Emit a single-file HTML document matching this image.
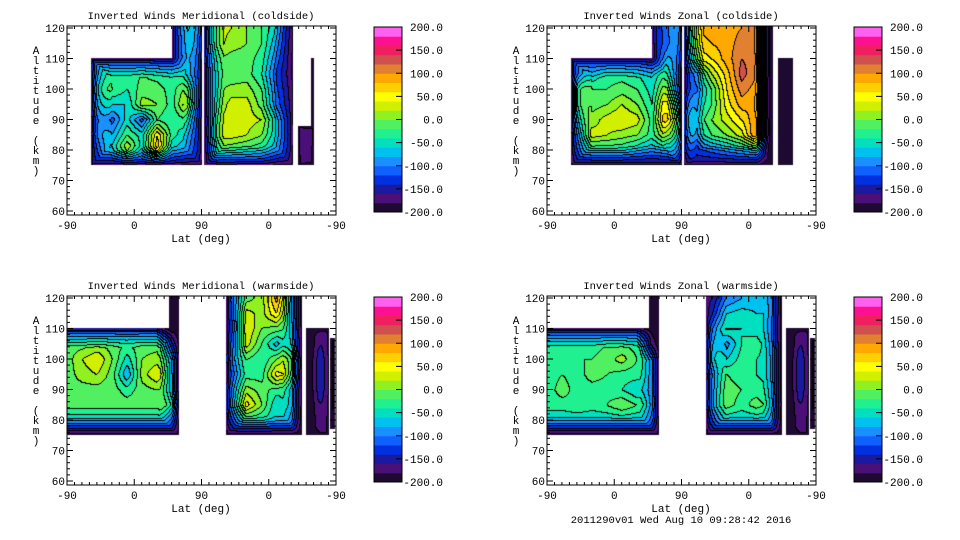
<!DOCTYPE html>
<html><head><meta charset="utf-8"><style>
body{margin:0;background:#fff;width:960px;height:540px;position:relative;overflow:hidden;font-family:"Liberation Mono",monospace}
canvas{position:absolute}
svg{position:absolute;left:0;top:0}
</style></head><body>
<svg id="s" width="960" height="540"></svg>
<script>
// ---- data ----
const colCenters=[0,20,40,60,80,100,120,140,160,180,200,220,240,260,280,300,320,340,360];
const altRows=[120,115,110,105,100,95,90,85,80,75];
const titles=["Inverted Winds Meridional (coldside)","Inverted Winds Zonal (coldside)","Inverted Winds Meridional (warmside)","Inverted Winds Zonal (warmside)"];
const xTickLabels=["-90","0","90","0","-90"];
const yTickLabels=[60,70,80,90,100,110,120];
const cbarLabels=["200.0","150.0","100.0","50.0","0.0","-50.0","-100.0","-150.0","-200.0"];
const levels=[-200,-180,-160,-140,-120,-100,-80,-60,-40,-20,0,20,40,60,80,100,120,140,160,180,200];
const bandColors=["#1e0a30","#4b1078","#1a1aa0","#0030e0","#1060ff","#1a90ff","#00c0f0","#00e0c0","#20f090","#50f060","#90f020","#d0f000","#ffff00","#ffd000","#ffa800","#e08030","#d05050","#f02060","#ff1090","#ff60f0"];
const masks=[
 [[32,180,75,110],[140,180,110,122],[184,302,75,122],[309,329,75,88],[327,330,75,110]],
 [[32,180,75,110],[140,180,110,122],[184,302,75,122],[309,329,75,110]],
 [[0,150,75,110],[136,150,110,122],[213,314,75,122],[320,350,75,110],[352,359,77,107]],
 [[0,150,75,110],[136,150,110,122],[213,314,75,122],[320,350,75,110],[352,359,77,107]]
];
const merCold=[
[-20,-20,-20,-20,-20,-20,-20,-60,-40,20,30,20,0,-20,-60,-130,-150,-150,-150],
[-20,-20,-20,-20,-20,-20,-20,-60,-50,10,30,10,0,-20,-80,-130,-150,-150,-150],
[-20,-20,-30,-40,-40,-40,-50,-60,-60,-20,0,-10,-10,-30,-100,-140,-150,-150,-150],
[-20,-20,0,-30,-30,-20,-30,-40,-50,-40,-10,-20,-10,-40,-120,-140,-150,-150,-150],
[-20,-20,40,-20,-40,-10,-10,-30,10,-50,-10,10,10,-20,-110,-130,-150,-150,-150],
[-20,-20,10,-60,-60,10,0,-30,40,-60,0,30,30,-10,-100,-120,-150,-150,-150],
[-20,-20,-30,-110,-50,-110,-20,-40,-20,-80,20,30,30,20,-60,-110,-150,-150,-150],
[-20,-20,-20,-80,-20,-50,60,-30,-60,-80,30,30,20,0,-60,-100,-140,-150,-150],
[-20,-20,-60,-50,30,-50,80,-60,-80,-90,-10,-20,-30,-40,-80,-110,-150,-150,-150],
[-20,-20,-100,-100,-80,-80,-80,-100,-120,-120,-80,-80,-80,-90,-120,-140,-150,-150,-150]];
const zonCold=[
[-40,-40,-40,-40,-40,-40,-40,-60,-100,60,80,90,90,100,100,-200,-200,-200,-200],
[-40,-40,-40,-40,-40,-40,-40,-70,-100,40,70,80,90,110,100,-200,-200,-200,-200],
[-40,-40,-50,-50,-50,-50,-50,-80,-60,0,40,60,90,120,110,-200,-200,-200,-200],
[-40,-40,-30,-60,-30,-30,-40,-60,-20,-40,-60,20,70,130,100,-200,-200,-200,-200],
[-40,-40,80,-20,-20,-10,-20,-50,30,-30,-80,-20,60,110,90,-200,-200,-200,-200],
[-40,-40,80,-10,0,20,0,-40,80,60,-60,-20,50,90,80,-200,-200,-200,-200],
[-40,-40,30,10,30,40,30,-30,100,140,-40,0,30,60,100,-200,-200,-200,-200],
[-40,-40,-20,30,20,10,0,-30,30,100,-60,-20,0,30,110,-200,-200,-200,-200],
[-40,-40,-60,-40,-40,-40,-60,-80,-60,20,-120,-100,-80,-60,-40,-200,-200,-200,-200],
[-120,-120,-120,-120,-120,-120,-120,-120,-120,-120,-120,-120,-120,-120,-120,-200,-200,-200,-200]];
const merWarm=[
[-10,-10,-10,-10,-10,-10,-10,-180,-180,-10,-10,-40,-10,10,90,-40,-200,-150,-150],
[-10,-10,-10,-10,-10,-10,-10,-180,-180,-10,-10,-50,30,10,60,-40,-200,-150,-150],
[-20,-20,-20,-20,-20,-20,-20,-180,-180,-10,-10,-60,40,0,-10,-30,-200,-150,-150],
[-10,-10,0,-10,-20,-10,-10,-100,-180,-10,-10,-40,30,-20,-70,-20,-200,-140,-150],
[-10,20,40,0,-50,0,10,-20,-180,-10,-10,-20,-20,-40,0,40,-200,-120,-150],
[-10,10,20,-10,-80,10,40,-10,-180,-10,-10,-50,-30,-30,50,30,-200,-120,-150],
[-10,-10,-10,-10,-30,-10,0,-10,-180,-10,-10,-10,10,-10,-30,-30,-200,-120,-150],
[-10,-10,-10,-10,-10,-10,-10,40,-180,-10,-10,10,50,0,-60,-30,-200,-140,-150],
[-60,-60,-60,-60,-60,-60,-60,-60,-180,-10,-10,-60,-40,-40,-60,-60,-200,-150,-150],
[-150,-150,-150,-150,-150,-150,-150,-150,-150,-150,-150,-150,-150,-150,-150,-150,-200,-150,-150]];
const zonWarm=[
[-30,-30,-30,-30,-30,-30,-30,-180,-180,-30,-30,-130,-100,-80,-70,-60,-200,-150,-150],
[-30,-30,-30,-30,-30,-30,-30,-180,-180,-30,-30,-100,-60,-50,-60,-60,-200,-150,-150],
[-40,-40,-40,-40,-40,-40,-40,-180,-180,-30,-30,-30,-40,-40,-50,-70,-200,-150,-150],
[-30,-30,-30,-30,-20,-20,-30,-150,-180,-30,-30,10,-90,-40,-30,-60,-200,-140,-150],
[-30,-30,-20,-20,-10,10,-20,-40,-180,-30,-30,30,-60,-30,-40,-50,-200,-120,-150],
[-30,-20,-30,-10,-20,-30,-30,-40,-180,-30,-30,-20,-20,-30,-40,-50,-200,-120,-150],
[-30,-10,-30,-30,-30,-40,-60,-40,-180,-30,-30,-10,-10,-20,-30,-40,-200,-120,-150],
[-30,-30,-20,-30,-20,0,-20,-30,-180,-30,-30,0,-10,-30,-10,-30,-200,-140,-150],
[-60,-60,-60,-60,-60,-60,-60,-60,-180,-30,-30,-60,-60,-60,-60,-60,-200,-150,-150],
[-150,-150,-150,-150,-150,-150,-150,-150,-150,-150,-150,-150,-150,-150,-150,-150,-200,-150,-150]];
const fields=[merCold,zonCold,merWarm,zonWarm];
const panelNames=["meridional-coldside","zonal-coldside","meridional-warmside","zonal-warmside"];

// ---- layout ----
const OX=[0,480,0,480], OY=[0,0,270,270];
const FX0=67,FX1=336,FY0=26,FY1=215;
const xOf=u=>FX0+u/360*(FX1-FX0);
const yOf=a=>28+(120-a)*3.05;
const cval=v=>212-(v+200)/400*185;
const NS="http://www.w3.org/2000/svg";
const svg=document.getElementById('s');
function mk(tag,attrs,parent,txt){const e=document.createElementNS(NS,tag);for(const k in attrs)e.setAttribute(k,attrs[k]);if(txt!==undefined)e.textContent=txt;(parent||svg).appendChild(e);return e;}
function band(v){let i=Math.floor((v+200)/20);return Math.max(0,Math.min(19,i));}
function rgb(h){return[parseInt(h.substr(1,2),16),parseInt(h.substr(3,2),16),parseInt(h.substr(5,2),16)];}
const RGB=bandColors.map(rgb);

function sample(f,u,a){
  let cf=u/20, rf=(120-a)/5;
  cf=Math.max(0,Math.min(colCenters.length-1.0001,cf));
  rf=Math.max(0,Math.min(altRows.length-1.0001,rf));
  const c=Math.floor(cf),r=Math.floor(rf),tx=cf-c,ty=rf-r;
  return f[r][c]*(1-tx)*(1-ty)+f[r][c+1]*tx*(1-ty)+f[r+1][c]*(1-tx)*ty+f[r+1][c+1]*tx*ty;
}

for(let p=0;p<4;p++){
  const ox=OX[p],oy=OY[p];
  const W=FX1-FX0,H=FY1-FY0;
  const cv=document.createElement('canvas');
  cv.width=W;cv.height=H;
  cv.style.left=(ox+FX0)+'px';cv.style.top=(oy+FY0)+'px';
  
  
  document.body.insertBefore(cv,svg);
  const ctx=cv.getContext('2d');
  const img=ctx.createImageData(W,H);
  const inM=new Uint8Array(W*H), D=new Float32Array(W*H), V=new Float32Array(W*H);
  for(let py=0;py<H;py++)for(let px=0;px<W;px++){
    const u=(px+0.5)/W*360, a=120-(py+FY0+0.5-28)/3.05;
    let m=0;for(const r of masks[p]){if(u>=r[0]&&u<=r[1]&&a>=r[2]&&a<=r[3]){m=1;break;}}
    const i=py*W+px;inM[i]=m;D[i]=m?1e9:0;
    if(m)V[i]=sample(fields[p],u,a);
  }
  for(let py=0;py<H;py++)for(let px=0;px<W;px++){const i=py*W+px;if(!inM[i])continue;let d=D[i];
    if(px>0)d=Math.min(d,D[i-1]+1);if(py>0){d=Math.min(d,D[i-W]+1);if(px>0)d=Math.min(d,D[i-W-1]+1.41);if(px<W-1)d=Math.min(d,D[i-W+1]+1.41);}D[i]=d;}
  for(let py=H-1;py>=0;py--)for(let px=W-1;px>=0;px--){const i=py*W+px;if(!inM[i])continue;let d=D[i];
    if(px<W-1)d=Math.min(d,D[i+1]+1);if(py<H-1){d=Math.min(d,D[i+W]+1);if(px<W-1)d=Math.min(d,D[i+W+1]+1.41);if(px>0)d=Math.min(d,D[i+W-1]+1.41);}D[i]=d;}
  const B=new Int8Array(W*H);
  const FW=20;
  for(let i=0;i<W*H;i++){if(!inM[i]){B[i]=-1;continue;}
    let v=V[i];const t=Math.min(1,Math.sqrt(D[i]/FW));v=-200+(v+200)*t;B[i]=band(v);}
  for(let py=0;py<H;py++)for(let px=0;px<W;px++){const i=py*W+px,b=B[i];let c=[255,255,255];
    if(b>=0){c=RGB[b];
      if((px>0&&B[i-1]>=0&&B[i-1]!==b)||(py>0&&B[i-W]>=0&&B[i-W]!==b))c=[0,0,0];}
    img.data[i*4]=c[0];img.data[i*4+1]=c[1];img.data[i*4+2]=c[2];img.data[i*4+3]=255;}
  ctx.putImageData(img,0,0);

  const g=mk('g',{transform:`translate(${ox},${oy})`,});
  mk('text',{x:201,y:19,'text-anchor':'middle','font-size':10.5,},g,titles[p]);
  mk('rect',{x:FX0,y:FY0,width:FX1-FX0,height:FY1-FY0,fill:'none',stroke:'#000','stroke-width':1,},g);
  for(let a=60;a<=120;a+=2){const y=yOf(a),maj=a%10===0;
    mk('line',{x1:FX0,x2:FX0+(maj?6:3),y1:y,y2:y,stroke:'#000',},g);
    mk('line',{x1:FX1,x2:FX1-(maj?6:3),y1:y,y2:y,stroke:'#000',},g);}
  yTickLabels.forEach(a=>mk('text',{x:FX0-2,y:yOf(a)+4,'text-anchor':'end','font-size':11,},g,String(a)));
  for(let u=0;u<=360;u+=10){const x=xOf(u),maj=u%90===0;
    mk('line',{x1:x,x2:x,y1:FY1,y2:FY1-(maj?6:3),stroke:'#000',},g);
    mk('line',{x1:x,x2:x,y1:FY0,y2:FY0+(maj?6:3),stroke:'#000',},g);}
  xTickLabels.forEach((l,i)=>mk('text',{x:xOf(i*90),y:FY1+14,'text-anchor':'middle','font-size':11,},g,l));
  mk('text',{x:201,y:FY1+27,'text-anchor':'middle','font-size':11,},g,'Lat (deg)');
  const yl=mk('text',{x:36,y:0,'text-anchor':'middle','font-size':11,},g);
  'Altitude (km)'.split('').forEach((ch,i)=>{mk('tspan',{x:36,y:54+i*10},yl,ch);});
  const cb=mk('g',{},g);
  levels.slice(0,20).forEach((lv,i)=>{const y0=cval(levels[i+1]),y1=cval(lv);
    mk('rect',{x:374,y:y0,width:28,height:y1-y0+0.5,fill:bandColors[i],},cb);});
  mk('rect',{x:374,y:cval(200),width:28,height:cval(-200)-cval(200),fill:'none',stroke:'#000',},cb);
  cbarLabels.forEach((l,i)=>{const y=cval(200-i*50);
    mk('line',{x1:396,x2:402,y1:y,y2:y,stroke:'#000',},cb);
    mk('text',{x:443,y:y+4,'text-anchor':'end','font-size':11,},cb,l);});
}
mk('text',{x:681,y:523,'text-anchor':'middle','font-size':10.5,},svg,'2011290v01 Wed Aug 10 09:28:42 2016');
</script>
</body></html>
